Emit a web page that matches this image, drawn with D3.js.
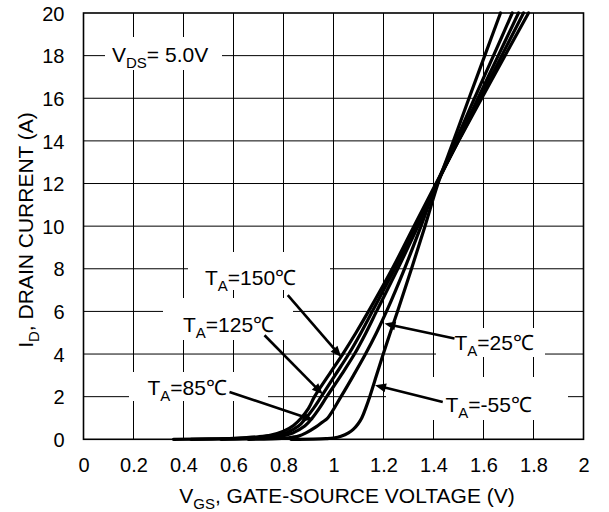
<!DOCTYPE html>
<html><head><meta charset="utf-8">
<script src="https://cdn.jsdelivr.net/npm/d3@7"></script>
<style>body{margin:0;background:#fff}svg{display:block}</style>
</head><body>
<svg id="c" width="609" height="512"></svg>
<script>
// ---- data ----
const xTicks = [0, 0.2, 0.4, 0.6, 0.8, 1.0, 1.2, 1.4, 1.6, 1.8, 2.0];
const xTickLabels = ["0", "0.2", "0.4", "0.6", "0.8", "1", "1.2", "1.4", "1.6", "1.8", "2"];
const yTicks = [0, 2, 4, 6, 8, 10, 12, 14, 16, 18, 20];
const yTickLabels = ["0", "2", "4", "6", "8", "10", "12", "14", "16", "18", "20"];
const temps = ["150", "125", "85", "25", "-55"];

const v150 = [0.36, 0.5, 0.6, 0.7, 0.75, 0.8, 0.84, 0.871, 0.9, 0.924, 0.98, 1.037, 1.09, 1.14, 1.235, 1.322, 1.41, 1.50, 1.593, 1.686, 1.78];
const i150 = [0, 0.02, 0.05, 0.12, 0.2, 0.38, 0.65, 1.0, 1.45, 2.0, 3.0, 4.0, 5.0, 6.0, 8.0, 10.0, 12.0, 14.0, 16.0, 18.0, 20.0];

const v125 = [0.43, 0.55, 0.65, 0.72, 0.77, 0.81, 0.86, 0.89, 0.92, 0.951, 1.006, 1.061, 1.11, 1.155, 1.245, 1.33, 1.413, 1.50, 1.587, 1.673, 1.76];
const i125 = [0, 0.02, 0.05, 0.12, 0.2, 0.3, 0.62, 1.0, 1.45, 2.0, 3.0, 4.0, 5.0, 6.0, 8.0, 10.0, 12.0, 14.0, 16.0, 18.0, 20.0];

const v85 = [0.55, 0.65, 0.72, 0.78, 0.837, 0.885, 0.915, 0.943, 0.973, 1.03, 1.084, 1.13, 1.172, 1.257, 1.338, 1.414, 1.497, 1.578, 1.659, 1.74];
const i85 = [0, 0.02, 0.05, 0.12, 0.3, 0.62, 1.0, 1.45, 2.0, 3.0, 4.0, 5.0, 6.0, 8.0, 10.0, 12.0, 14.0, 16.0, 18.0, 20.0];

const v25 = [0.66, 0.75, 0.82, 0.86, 0.89, 0.93, 0.955, 0.977, 1.03, 1.08, 1.128, 1.172, 1.212, 1.284, 1.35, 1.413, 1.489, 1.564, 1.64, 1.715];
const i25 = [0, 0.02, 0.07, 0.15, 0.3, 0.58, 0.8, 1.0, 2.0, 3.0, 4.0, 5.0, 6.0, 8.0, 10.0, 12.0, 14.0, 16.0, 18.0, 20.0];

const vm55 = [0.83, 0.92, 0.97, 1.0, 1.03, 1.06, 1.08, 1.098, 1.113, 1.130, 1.145, 1.172, 1.199, 1.227, 1.256, 1.312, 1.366, 1.418, 1.48, 1.542, 1.605, 1.668];
const im55 = [0, 0.01, 0.03, 0.06, 0.14, 0.3, 0.48, 0.72, 1.0, 1.5, 2.0, 3.0, 4.0, 5.0, 6.0, 8.0, 10.0, 12.0, 14.0, 16.0, 18.0, 20.0];

const seriesV = [v150, v125, v85, v25, vm55];
const seriesI = [i150, i125, i85, i25, im55];

// ---- layout ----
const svg = d3.select("#c");
const L = 83.5, R = 583.5, T = 13, B = 439.3;
const x = d3.scaleLinear().domain([0, 2]).range([L, R]);
const y = d3.scaleLinear().domain([0, 20]).range([B, T]);
const FONT = "'Liberation Sans', Arial, Helvetica, sans-serif";

// grid
const g = svg.append("g");
g.selectAll("line.vx").data(xTicks.slice(1, -1)).enter().append("line")
  .attr("x1", d => x(d)).attr("x2", d => x(d)).attr("y1", T).attr("y2", B)
  .attr("stroke", "#000").attr("stroke-width", 1);
g.selectAll("line.hy").data(yTicks.slice(1, -1)).enter().append("line")
  .attr("y1", d => y(d)).attr("y2", d => y(d)).attr("x1", L).attr("x2", R)
  .attr("stroke", "#000").attr("stroke-width", 1);

// axes (no tick marks, labels only)
const xAxis = d3.axisBottom(x).tickValues(xTicks).tickSize(0).tickPadding(0)
  .tickFormat((d, i) => xTickLabels[i]);
const xa = svg.append("g").attr("transform", `translate(0,${B})`).call(xAxis);
xa.select(".domain").remove();
xa.selectAll("text").attr("font-family", FONT).attr("font-size", 20).attr("fill", "#000")
  .attr("dy", null).attr("y", 33);

const yAxis = d3.axisLeft(y).tickValues(yTicks).tickSize(0).tickPadding(19)
  .tickFormat((d, i) => yTickLabels[i]);
const ya = svg.append("g").attr("transform", `translate(${L},0)`).call(yAxis);
ya.select(".domain").remove();
ya.selectAll("text").attr("font-family", FONT).attr("font-size", 20).attr("fill", "#000").attr("dy", "0.36em");

// label background boxes
const boxes = [
  [105, 222, 37, 70],
  [188, 330, 252, 290],
  [163, 293, 298, 340],
  [129, 268, 372, 401],
  [436, 545, 328, 357],
  [386, 568, 377, 420]
];
svg.append("g").selectAll("rect").data(boxes).enter().append("rect")
  .attr("x", d => d[0]).attr("y", d => d[2]).attr("width", d => d[1] - d[0]).attr("height", d => d[3] - d[2])
  .attr("fill", "#fff");

// frame
svg.append("rect").attr("x", L).attr("y", T).attr("width", R - L).attr("height", B - T)
  .attr("fill", "none").attr("stroke", "#000").attr("stroke-width", 1.6);

// curves
const line = d3.line().x(d => x(d[0])).y(d => y(d[1])).curve(d3.curveCatmullRom.alpha(0.5));
const cg = svg.append("g");
seriesV.forEach((vs, k) => {
  const pts = vs.map((v, j) => [v, seriesI[k][j]]);
  cg.append("path").attr("d", line(pts)).attr("fill", "none").attr("stroke", "#000")
    .attr("stroke-width", 3.2).attr("stroke-linejoin", "round").attr("stroke-linecap", "round");
});

// annotations: label start (data), tail (data), tip (data)
const annots = [
  {t: temps[0], lx: 0.486, ly: 7.23, tail: [0.817, 6.76], tip: [1.031, 3.86]},
  {t: temps[1], lx: 0.398, ly: 5.04, tail: [0.724, 4.88], tip: [0.957, 2.11]},
  {t: temps[2], lx: 0.256, ly: 2.08, tail: [0.584, 2.22], tip: [0.920, 0.90]},
  {t: temps[3], lx: 1.484, ly: 4.19, tail: [1.484, 4.73], tip: [1.204, 5.43]},
  {t: temps[4], lx: 1.448, ly: 1.28, tail: [1.437, 1.75], tip: [1.166, 2.54]}
];
const ag = svg.append("g");
annots.forEach(a => {
  const x0 = x(a.tail[0]), y0 = y(a.tail[1]), x1 = x(a.tip[0]), y1 = y(a.tip[1]);
  const dx = x1 - x0, dy = y1 - y0, len = Math.hypot(dx, dy);
  const ux = dx / len, uy = dy / len;
  const hl = 11, hw = 4.5;
  const bx = x1 - ux * hl, by = y1 - uy * hl;
  ag.append("line").attr("x1", x0).attr("y1", y0).attr("x2", bx + ux * 2).attr("y2", by + uy * 2)
    .attr("stroke", "#000").attr("stroke-width", 2.6);
  ag.append("path").attr("d", `M${x1},${y1}L${bx - uy * hw},${by + ux * hw}L${bx + uy * hw},${by - ux * hw}Z`)
    .attr("fill", "#000");
  const tx = ag.append("text").attr("x", x(a.lx)).attr("y", y(a.ly))
    .attr("font-family", FONT).attr("font-size", 21).attr("fill", "#000");
  tx.append("tspan").text("T");
  tx.append("tspan").attr("font-size", 15).attr("dy", 6).text("A");
  tx.append("tspan").attr("dy", -6).text("=" + a.t + "℃");
});

// V_DS label
const vt = svg.append("text").attr("x", 112).attr("y", 61.5).attr("font-family", FONT).attr("font-size", 21).attr("fill", "#000");
vt.append("tspan").text("V");
vt.append("tspan").attr("font-size", 15).attr("dy", 6).text("DS");
vt.append("tspan").attr("dy", -6).text("= 5.0V");

// axis titles
const xt = svg.append("text").attr("x", 347).attr("y", 503).attr("text-anchor", "middle")
  .attr("font-family", FONT).attr("font-size", 21).attr("fill", "#000");
xt.append("tspan").text("V");
xt.append("tspan").attr("font-size", 15).attr("dy", 6).text("GS");
xt.append("tspan").attr("dy", -6).text(", GATE-SOURCE VOLTAGE (V)");

const yt = svg.append("text").attr("transform", "translate(33,230) rotate(-90)").attr("text-anchor", "middle")
  .attr("font-family", FONT).attr("font-size", 21).attr("fill", "#000");
yt.append("tspan").text("I");
yt.append("tspan").attr("font-size", 15).attr("dy", 6).text("D");
yt.append("tspan").attr("dy", -6).text(", DRAIN CURRENT (A)");
</script>
</body></html>
